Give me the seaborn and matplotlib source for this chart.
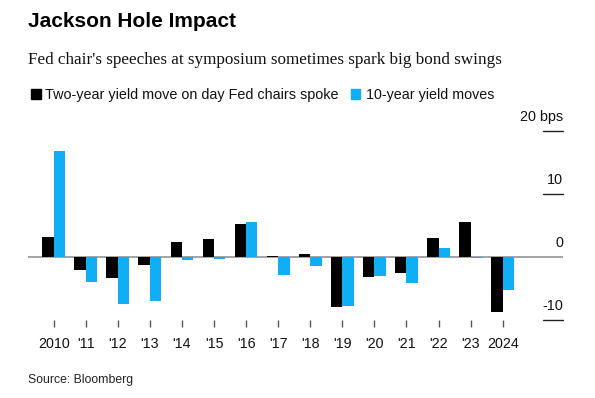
import matplotlib
matplotlib.use("Agg")
import matplotlib.pyplot as plt
from matplotlib.patches import Rectangle
import seaborn as sns
import pandas as pd

# ---- data ----
years = [str(y) for y in range(2010, 2025)]
year_labels = ["2010", "'11", "'12", "'13", "'14", "'15", "'16", "'17", "'18",
               "'19", "'20", "'21", "'22", "'23", "2024"]
two_year = [3.2, -2.0, -3.3, -1.2, 2.4, 2.8, 5.3, 0.2, 0.4, -7.9, -3.1, -2.5, 3.0, 5.5, -8.8]
ten_year = [16.9, -3.9, -7.4, -7.0, -0.4, -0.3, 5.6, -2.8, -1.5, -7.8, -3.0, -4.2, 1.5, -0.1, -5.3]
series_names = ["Two-year yield move on day Fed chairs spoke", "10-year yield moves"]
y_ticks = [20, 10, 0, -10]
y_tick_labels = ["20 bps", "10", "0", "-10"]

BLACK = "#000000"
BLUE = "#0faef5"

df = pd.DataFrame({
    "year": years * 2,
    "value": two_year + ten_year,
    "series": [series_names[0]] * len(years) + [series_names[1]] * len(years),
})

sns.set_theme(style="white")
plt.rcParams["font.family"] = ["Liberation Sans", "DejaVu Sans"]

W, H = 595, 398
fig = plt.figure(figsize=(W / 100, H / 100), dpi=100)

def fx(px):
    return px / W

def fy(py):
    return 1 - py / H

ax_left, ax_right, ax_top, ax_bottom = 28, 563, 131, 320
ax = fig.add_axes([fx(ax_left), fy(ax_bottom), fx(ax_right - ax_left), (ax_bottom - ax_top) / H])

sns.barplot(data=df, x="year", y="value", hue="series", order=years,
            hue_order=series_names, palette=[BLACK, BLUE], width=0.71,
            saturation=1, ax=ax, legend=False, zorder=2, linewidth=0, edgecolor="none")

ax.axhline(0, color="#8a8a8a", lw=1.1, zorder=1)
ax.set_xlim(-0.8, 15.88)
ax.set_ylim(-10, 20)
for s in ax.spines.values():
    s.set_visible(False)
ax.set_xlabel("")
ax.set_ylabel("")
ax.set_yticks([])
ax.set_xticks(range(len(years)))
ax.set_xticklabels(year_labels, fontsize=10.3, color="#111111")
ax.tick_params(axis="x", length=5, width=1, color="#555555", pad=7, direction="out", bottom=True)

# right-side y tick lines and labels
trans = ax.get_yaxis_transform()
x0 = (543 - ax_left) / (ax_right - ax_left)
for v, lab in zip(y_ticks, y_tick_labels):
    if v != 0:
        ax.plot([x0, 1.0], [v, v], transform=trans, color="#222222", lw=1, clip_on=False)
    ax.annotate(lab, xy=(1.0, v), xycoords=trans, xytext=(0, 5), textcoords="offset points",
                ha="right", va="bottom", fontsize=10.4, color="#111111")

# title, subtitle
fig.text(fx(28), fy(26.7), "Jackson Hole Impact", fontsize=15, fontweight="bold",
         ha="left", va="baseline", color="#000000")
fig.text(fx(28), fy(64.3), "Fed chair's speeches at symposium sometimes spark big bond swings",
         fontsize=12.3, family=["Liberation Serif", "DejaVu Serif"], ha="left", va="baseline",
         color="#111111")

# legend
lb = 99
fig.patches.append(Rectangle((fx(31), fy(lb)), fx(9.5), 10 / H, transform=fig.transFigure,
                             color=BLACK, figure=fig))
fig.text(fx(45), fy(lb), series_names[0], fontsize=10.4, ha="left", va="baseline", color="#111111")
fig.patches.append(Rectangle((fx(351), fy(lb)), fx(9), 10 / H, transform=fig.transFigure,
                             color=BLUE, figure=fig))
fig.text(fx(366), fy(lb), series_names[1], fontsize=10.3, ha="left", va="baseline", color="#111111")

# source
fig.text(fx(28), fy(383.3), "Source: Bloomberg", fontsize=8.8, ha="left", va="baseline", color="#222222")

fig.savefig("out.png", dpi=100, facecolor="white")
